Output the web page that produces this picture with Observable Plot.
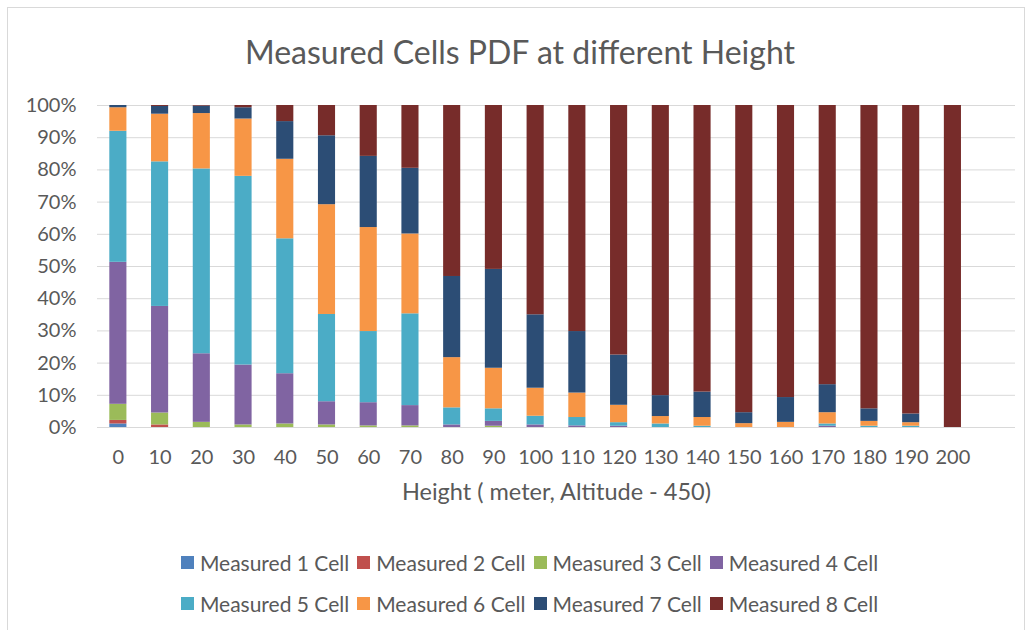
<!DOCTYPE html>
<html>
<head>
<meta charset="utf-8">
<script src="https://cdn.jsdelivr.net/npm/d3@7"></script>
<script src="https://cdn.jsdelivr.net/npm/@observablehq/plot@0.6"></script>
<style>
  html, body { margin: 0; padding: 0; background: #ffffff; }
  #wrap { position: relative; width: 1030px; height: 630px; overflow: hidden; font-family: Lato, "Open Sans", sans-serif; }
  #frame { position: absolute; left: 7px; top: 7px; width: 1018px; height: 640px; border: 1px solid #d9d9d9; box-sizing: border-box; pointer-events: none; }
  #title { height: 80px; box-sizing: border-box; padding-top: 36px; text-align: center; font-size: 32px; line-height: 32px; color: #595959; margin-left: 10px; }
  #chart svg { display: block; }
  #legend { padding-top: 25px; color: #595959; font-size: 21px; }
  .lrow { display: flex; justify-content: center; height: 41px; align-items: center; padding-left: 37px; }
  .litem { display: flex; align-items: center; margin-right: 8px; }
  .lsw { width: 13px; height: 13px; margin-right: 6px; }
</style>
</head>
<body>
<div id="wrap">
  <div id="frame"></div>
  <div id="title"></div>
  <div id="chart"></div>
  <div id="legend"></div>
</div>
<script>
const chartTitle = "Measured Cells PDF at different Height";
const xTitle = "Height ( meter, Altitude - 450)";
const heights = ["0","10","20","30","40","50","60","70","80","90","100","110","120","130","140","150","160","170","180","190","200"];
const seriesNames = ["Measured 1 Cell","Measured 2 Cell","Measured 3 Cell","Measured 4 Cell","Measured 5 Cell","Measured 6 Cell","Measured 7 Cell","Measured 8 Cell"];
const seriesColors = ["#4F81BD","#C0504D","#9BBB59","#8064A2","#4BACC6","#F79646","#2C4D75","#772C2A"];
const yTicks = [0,10,20,30,40,50,60,70,80,90,100];

// percentage of each height's samples (heights 0..200)
const cell1 = [1.1, 0,   0,   0,   0,   0,   0,   0,   0,   0,   0,   0,   0,   0,   0,   0,   0,   0,   0,   0,   0];
const cell2 = [1.1, 0.8, 0,   0,   0,   0,   0,   0,   0,   0,   0,   0,   0,   0,   0,   0,   0,   0,   0,   0,   0];
const cell3 = [5.0, 3.7, 1.6, 0.8, 1.1, 0.8, 0.5, 0.5, 0,   0.4, 0,   0,   0,   0,   0,   0,   0,   0,   0,   0,   0];
const cell4 = [44.1,33.1,21.3,18.6,15.6,7.2, 7.2, 6.3, 0.8, 1.5, 0.8, 0.5, 0.4, 0,   0,   0,   0,   0.4, 0,   0,   0];
const cell5 = [40.7,44.9,57.4,58.6,41.9,27.1,22.1,28.5,5.3, 3.9, 2.7, 2.6, 1.1, 1.1, 0.4, 0,   0,   0.7, 0.4, 0.4, 0];
const cell6 = [7.3, 14.8,17.2,17.8,24.7,34.1,32.3,24.8,15.6,12.6,8.7, 7.6, 5.4, 2.3, 2.7, 1.2, 1.6, 3.5, 1.5, 1.1, 0];
const cell7 = [0.7, 2.4, 2.3, 3.5, 11.7,21.4,22.1,20.4,25.2,30.7,22.8,19.1,15.6,6.5, 7.9, 3.4, 7.7, 8.7, 3.9, 2.7, 0];
const cell8 = [0,   0.3, 0.2, 0.7, 5.0, 9.4, 15.8,19.5,53.1,50.9,65.0,70.2,77.5,90.1,89.0,95.4,90.7,86.7,94.2,95.8,100];

const seriesValues = [cell1, cell2, cell3, cell4, cell5, cell6, cell7, cell8];
const data = seriesValues.flatMap((vals, i) =>
  vals.map((v, j) => ({height: heights[j], series: seriesNames[i], value: v})));

document.getElementById("title").textContent = chartTitle;

const chart = Plot.plot({
  width: 1030,
  height: 437,
  marginLeft: 97,
  marginRight: 15,
  marginTop: 25,
  marginBottom: 90,
  style: {fontFamily: "Lato, 'Open Sans', sans-serif", fontSize: "20px", color: "#595959", background: "transparent", overflow: "visible"},
  x: {domain: [...heights, ""], paddingInner: 0.59, paddingOuter: 0.295, round: false, label: null},
  y: {domain: [0, 100], label: null},
  color: {domain: seriesNames, range: seriesColors},
  marks: [
    Plot.gridY(yTicks, {stroke: "#d9d9d9", strokeOpacity: 1, strokeWidth: 1}),
    Plot.axisY(yTicks, {tickSize: 0, tickPadding: 21, tickFormat: d => d + "%", label: null, fontSize: 20}),
    Plot.axisX({tickSize: 0, tickPadding: 22, label: null, fontSize: 20}),
    Plot.barY(data, {x: "height", y: "value", fill: "series"}),
    Plot.text([xTitle], {frameAnchor: "bottom", dy: 72, fontSize: 23.5, fill: "#595959", text: d => d})
  ]
});
document.getElementById("chart").appendChild(chart);

const legend = document.getElementById("legend");
for (let r = 0; r < 2; r++) {
  const row = document.createElement("div");
  row.className = "lrow";
  for (let k = r * 4; k < r * 4 + 4; k++) {
    const item = document.createElement("div");
    item.className = "litem";
    const sw = document.createElement("div");
    sw.className = "lsw";
    sw.style.background = seriesColors[k];
    const tx = document.createElement("span");
    tx.textContent = seriesNames[k];
    item.appendChild(sw);
    item.appendChild(tx);
    row.appendChild(item);
  }
  legend.appendChild(row);
}
</script>
</body>
</html>
